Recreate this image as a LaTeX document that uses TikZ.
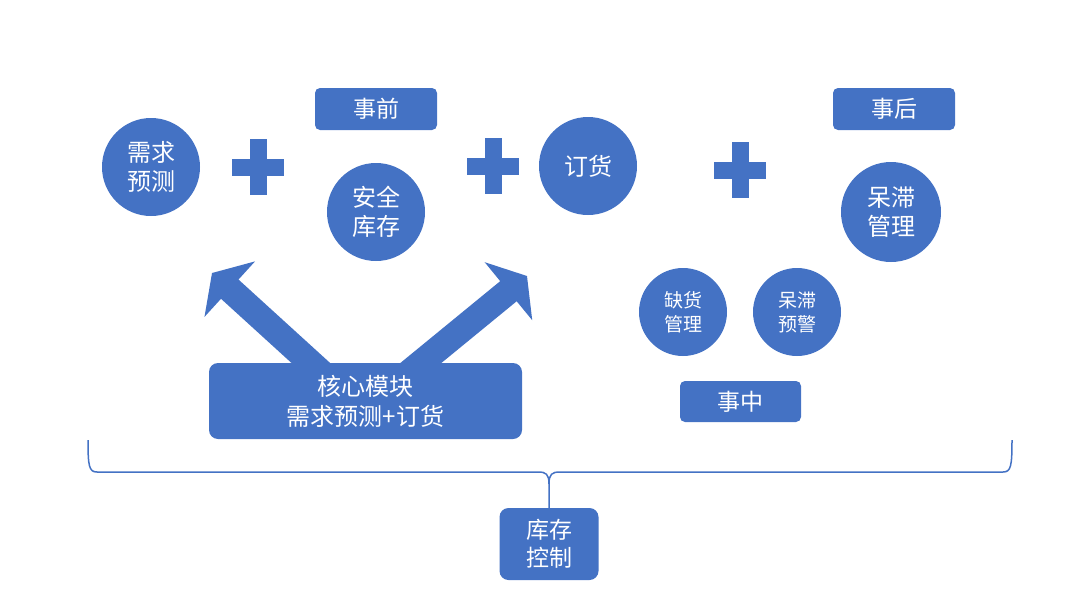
\documentclass[tikz,border=0pt]{standalone}
\usepackage{fontspec}
\setmainfont{Noto Sans CJK SC}
\usetikzlibrary{arrows.meta}
\definecolor{ppblue}{HTML}{4472C4}
\tikzset{
    circ/.style={circle, fill=ppblue, text=white, minimum size=98pt, inner sep=0pt, align=center, font=\fontsize{24}{29}\selectfont},
    smallcirc/.style={circ, minimum size=88pt, font=\fontsize{19}{24}\selectfont},
    tag/.style={rectangle, rounded corners=5pt, fill=ppblue, text=white, minimum width=122pt, minimum height=42pt, inner sep=0pt, font=\fontsize{23}{28}\selectfont},
    bigtag/.style={tag, rounded corners=9pt, align=center},
    plussign/.pic={
        \fill[ppblue] (-26,-8.5) rectangle (26,8.5);
        \fill[ppblue] (-8.5,-28) rectangle (8.5,28);
    },
    bigarrow/.style={ppblue, line width=26pt, -{Triangle[length=24pt,width=74pt]}},
}
\begin{document}
\begin{tikzpicture}[x=1pt, y=-1pt]
    \useasboundingbox (0,0) rectangle (1080,616);
    \coordinate (ltail) at (335,385);
    \coordinate (ltip) at (212,273);
    \coordinate (rtail) at (394,385);
    \coordinate (rtip) at (527,276);
    \draw[bigarrow] (ltail) -- (ltip);
    \draw[bigarrow] (rtail) -- (rtip);
    \node[bigtag, minimum width=313pt, minimum height=76pt, font=\fontsize{24}{30}\selectfont] (core) at (365.5,401) {核心模块\\需求预测+订货};
    \node[circ] (demand) at (151,167) {需求\\预测};
    \node[circ] (safety) at (376,212) {安全\\库存};
    \node[circ] (order) at (588,166) {订货};
    \node[circ, minimum size=100pt] (stale) at (891,212) {呆滞\\管理};
    \node[smallcirc] (short) at (683,312) {缺货\\管理};
    \node[smallcirc] (alert) at (797,312) {呆滞\\预警};
    \pic at (258,167) {plussign};
    \pic at (493,166) {plussign};
    \pic at (740,170) {plussign};
    \node[tag] (before) at (376,109) {事前};
    \node[tag] (after) at (894,109) {事后};
    \node[tag, minimum width=121pt, minimum height=41pt] (during) at (740.5,401.5) {事中};
    \node[bigtag, minimum width=99pt, minimum height=72pt, font=\fontsize{23}{28}\selectfont] (ctrl) at (549,544) {库存\\控制};
    \draw[ppblue, line width=1.5pt] (88,440) .. controls (88,466) and (89,472) .. (97,472) -- (538,472)
        .. controls (546,472) and (549,474) .. (549,484) -- (ctrl.north);
    \draw[ppblue, line width=1.5pt] (1012,440) .. controls (1012,466) and (1011,472) .. (1003,472) -- (560,472)
        .. controls (552,472) and (549,474) .. (549,484);
\end{tikzpicture}
\end{document}
